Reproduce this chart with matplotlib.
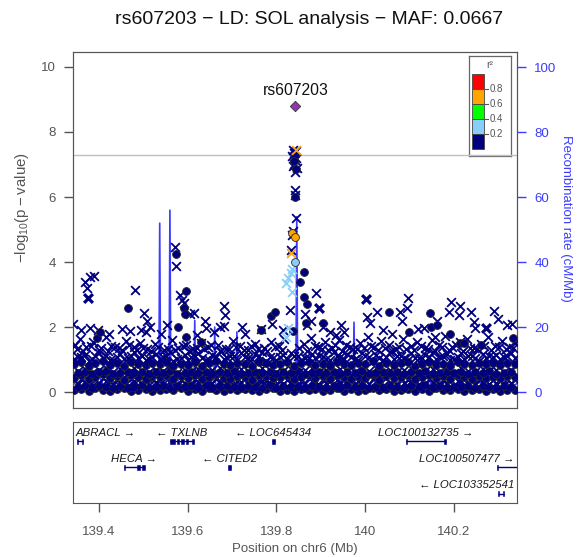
import numpy as np
import matplotlib
matplotlib.use("Agg")
import matplotlib.pyplot as plt
from matplotlib.patches import Rectangle

plt.rcParams['font.family'] = ['Liberation Sans', 'DejaVu Sans']

# ---- data ----
lead_name = "rs607203"
lead_pos = 139.843
lead_val = 8.80

# dense background band (low LD, -log10 p < ~1.3)
band_pos_a = [139.344, 139.360, 139.377, 139.392, 139.409, 139.424, 139.440, 139.457, 139.472, 139.488,
              139.505, 139.520, 139.537, 139.552, 139.568, 139.585, 139.600, 139.616, 139.633, 139.648,
              139.664, 139.681, 139.696, 139.712, 139.729, 139.744, 139.760, 139.777, 139.792, 139.808,
              139.825, 139.840, 139.856, 139.873, 139.888, 139.904, 139.921, 139.936, 139.952, 139.969,
              139.984, 140.000, 140.017, 140.032, 140.048, 140.065, 140.080, 140.096, 140.113, 140.128,
              140.144, 140.161, 140.176, 140.192, 140.209, 140.224, 140.240, 140.257, 140.272, 140.288,
              140.305, 140.320, 140.337]
band_pos_b = [139.352, 139.368, 139.385, 139.400, 139.417, 139.432, 139.448, 139.465, 139.480, 139.496,
              139.513, 139.528, 139.545, 139.560, 139.576, 139.593, 139.608, 139.624, 139.641, 139.656,
              139.672, 139.689, 139.704, 139.720, 139.737, 139.752, 139.768, 139.785, 139.800, 139.816,
              139.833, 139.848, 139.864, 139.881, 139.896, 139.912, 139.929, 139.944, 139.960, 139.977,
              139.992, 140.008, 140.025, 140.040, 140.056, 140.073, 140.088, 140.104, 140.121, 140.136,
              140.152, 140.169, 140.184, 140.200, 140.217, 140.232, 140.248, 140.265, 140.280, 140.296,
              140.313, 140.328]
band_c0 = [0.05, 0.09, 0.03, 0.11, 0.06, 0.02, 0.08, 0.12, 0.04, 0.07, 0.10, 0.03, 0.06, 0.09, 0.05, 0.12,
           0.02, 0.08, 0.04, 0.11, 0.07, 0.03, 0.09, 0.05, 0.10, 0.06, 0.02, 0.08, 0.12, 0.04, 0.07, 0.03,
           0.10, 0.05, 0.09, 0.02, 0.06, 0.11, 0.04, 0.08, 0.03, 0.07, 0.12, 0.05, 0.09, 0.02, 0.06, 0.10,
           0.04, 0.08, 0.03, 0.11, 0.07, 0.05, 0.09, 0.02, 0.06, 0.10, 0.04, 0.08, 0.03, 0.07, 0.05]
band_c1 = [0.15, 0.18, 0.13, 0.20, 0.16, 0.12, 0.19, 0.14, 0.17, 0.21, 0.13, 0.16, 0.20, 0.12, 0.18, 0.15,
           0.19, 0.14, 0.21, 0.13, 0.17, 0.20, 0.15, 0.12, 0.18, 0.16, 0.14, 0.21, 0.13, 0.19, 0.15, 0.17,
           0.12, 0.20, 0.16, 0.14, 0.18, 0.13, 0.21, 0.15, 0.19, 0.12, 0.17, 0.14, 0.20, 0.16, 0.13, 0.18,
           0.15, 0.21, 0.12, 0.19, 0.14, 0.17, 0.16, 0.20, 0.13, 0.18, 0.15, 0.12, 0.19, 0.16]
band_x1 = [0.24, 0.31, 0.19, 0.27, 0.35, 0.22, 0.29, 0.18, 0.33, 0.25, 0.21, 0.30, 0.26, 0.34, 0.20, 0.28,
           0.23, 0.32, 0.19, 0.27, 0.35, 0.24, 0.21, 0.30, 0.26, 0.18, 0.33, 0.29, 0.22, 0.25, 0.31, 0.20,
           0.27, 0.34, 0.23, 0.28, 0.19, 0.32, 0.26, 0.21, 0.30, 0.24, 0.35, 0.18, 0.29, 0.22, 0.27, 0.33,
           0.20, 0.25, 0.31, 0.23, 0.28, 0.19, 0.34, 0.26, 0.21, 0.30, 0.24, 0.27, 0.22, 0.29]
band_x2 = [0.36, 0.40, 0.33, 0.38, 0.42, 0.35, 0.39, 0.34, 0.41, 0.37, 0.33, 0.40, 0.36, 0.42, 0.34, 0.38,
           0.35, 0.41, 0.37, 0.33, 0.39, 0.36, 0.42, 0.34, 0.40, 0.35, 0.38, 0.33, 0.41, 0.37, 0.36, 0.39,
           0.34, 0.42, 0.35, 0.40, 0.33, 0.38, 0.36, 0.41, 0.34, 0.37, 0.39, 0.35, 0.42, 0.33, 0.40, 0.36,
           0.38, 0.34, 0.41, 0.35, 0.37, 0.39, 0.33, 0.42, 0.36, 0.40, 0.34, 0.38, 0.35, 0.41, 0.37]
band_c2 = [0.44, 0.51, 0.39, 0.47, 0.55, 0.42, 0.49, 0.38, 0.53, 0.45, 0.41, 0.50, 0.46, 0.54, 0.40, 0.48,
           0.43, 0.52, 0.39, 0.47, 0.55, 0.44, 0.41, 0.50, 0.46, 0.38, 0.53, 0.49, 0.42, 0.45, 0.51, 0.40,
           0.47, 0.54, 0.43, 0.48, 0.39, 0.52, 0.46, 0.41, 0.50, 0.44, 0.55, 0.38, 0.49, 0.42, 0.47, 0.53,
           0.40, 0.45, 0.51, 0.43, 0.48, 0.39, 0.54, 0.46, 0.41, 0.50, 0.44, 0.47, 0.42, 0.49, 0.45]
band_c3 = [0.59, 0.62, 0.56, 0.61, 0.64, 0.57, 0.60, 0.63, 0.58, 0.62, 0.56, 0.61, 0.59, 0.64, 0.57, 0.60,
           0.63, 0.58, 0.62, 0.56, 0.61, 0.59, 0.64, 0.57, 0.60, 0.62, 0.58, 0.63, 0.56, 0.61, 0.59, 0.64,
           0.57, 0.60, 0.62, 0.58, 0.63, 0.56, 0.61, 0.59, 0.64, 0.57, 0.60, 0.62, 0.58, 0.63, 0.56, 0.61,
           0.59, 0.64, 0.57, 0.60, 0.62, 0.58, 0.63, 0.56, 0.61, 0.59, 0.64, 0.57, 0.60, 0.62]
band_x3 = [0.66, 0.71, 0.59, 0.68, 0.75, 0.62, 0.70, 0.58, 0.73, 0.64, 0.61, 0.69, 0.66, 0.74, 0.60, 0.67,
           0.63, 0.72, 0.59, 0.68, 0.75, 0.64, 0.61, 0.70, 0.66, 0.58, 0.73, 0.69, 0.62, 0.65, 0.71, 0.60,
           0.67, 0.74, 0.63, 0.68, 0.59, 0.72, 0.66, 0.61, 0.70, 0.64, 0.75, 0.58, 0.69, 0.62, 0.67, 0.73,
           0.60, 0.65, 0.71, 0.63, 0.68, 0.59, 0.74, 0.66, 0.61, 0.70, 0.64, 0.67, 0.62, 0.69]
band_c4 = [0.86, 0.91, 0.80, 0.88, 0.95, 0.83, 0.90, 0.79, 0.93, 0.85, 0.82, 0.89, 0.86, 0.94, 0.81, 0.87,
           0.84, 0.92, 0.80, 0.88, 0.95, 0.85, 0.82, 0.90, 0.86, 0.79, 0.93, 0.89, 0.83, 0.85, 0.91, 0.81,
           0.88, 0.94, 0.84, 0.87, 0.80, 0.92, 0.86, 0.82, 0.90, 0.85, 0.95, 0.79, 0.89, 0.83, 0.88, 0.93,
           0.81, 0.86, 0.91, 0.84, 0.87, 0.80, 0.94, 0.86, 0.82, 0.90, 0.85, 0.88, 0.83, 0.89, 0.86]
band_x4 = [1.02, 1.08, 0.97, 1.11, 1.04, 0.99, 1.09, 1.01, 1.12, 1.05, 0.98, 1.07, 1.03, 1.10, 0.97, 1.06,
           1.00, 1.11, 1.04, 0.98, 1.09, 1.02, 1.12, 0.99, 1.07, 1.03, 1.10, 0.97, 1.05, 1.08, 1.01, 1.11,
           0.98, 1.06, 1.04, 1.09, 0.99, 1.12, 1.03, 1.07, 1.00, 1.10, 0.97, 1.05, 1.08, 1.02, 1.11, 0.98,
           1.06, 1.04, 1.09, 1.01, 1.12, 0.99, 1.07, 1.03, 1.10, 0.97, 1.05, 1.08, 1.02, 1.11, 1.04]
band_x5 = [1.08, 1.15, 1.02, 1.21, 1.10, 0.98, 1.18, 1.05, 1.24, 1.12, 1.03, 1.16, 1.09, 1.22, 1.01, 1.14,
           1.07, 1.20, 0.99, 1.13, 1.25, 1.06, 1.11, 1.19, 1.04, 1.17, 1.23, 1.08, 1.00, 1.15, 1.21, 1.10,
           1.05, 1.18, 1.12, 1.02, 1.24, 1.09, 1.16, 1.03, 1.20, 1.07, 1.13, 0.99, 1.22, 1.11, 1.06, 1.19,
           1.04, 1.15, 1.23, 1.08, 1.17, 1.01, 1.21, 1.12, 1.05, 1.18, 1.10, 1.14, 1.07, 1.20]

fringe_pos = [139.346, 139.358, 139.371, 139.386, 139.399, 139.415, 139.428, 139.445, 139.462, 139.478,
              139.493, 139.509, 139.526, 139.547, 139.565, 139.578, 139.597, 139.611, 139.629, 139.645,
              139.668, 139.686, 139.702, 139.719, 139.735, 139.751, 139.772, 139.789, 139.805, 139.818,
              139.862, 139.878, 139.894, 139.909, 139.926, 139.941, 139.957, 139.973, 139.989, 140.006,
              140.021, 140.037, 140.053, 140.069, 140.085, 140.103, 140.118, 140.134, 140.150, 140.166,
              140.181, 140.197, 140.213, 140.229, 140.245, 140.261, 140.277, 140.293, 140.309, 140.325,
              140.339]
fringe_val = [1.45, 1.62, 1.38, 1.55, 1.30, 1.68, 1.42, 1.35, 1.58, 1.40, 1.50, 1.33, 1.47, 1.28, 1.60,
              1.36, 1.44, 1.31, 1.52, 1.39, 1.46, 1.34, 1.57, 1.41, 1.30, 1.49, 1.37, 1.53, 1.43, 1.62,
              1.48, 1.66, 1.40, 1.55, 1.35, 1.60, 1.44, 1.31, 1.52, 1.70, 1.38, 1.58, 1.46, 1.33, 1.64,
              1.42, 1.55, 1.36, 1.61, 1.45, 1.72, 1.39, 1.53, 1.62, 1.35, 1.49, 1.70, 1.42, 1.56, 1.38,
              1.50]
fringe2_pos = [139.350, 139.364, 139.381, 139.404, 139.420, 139.437, 139.452, 139.468, 139.485, 139.500,
               139.517, 139.533, 139.556, 139.572, 139.589, 139.604, 139.622, 139.637, 139.653, 139.676,
               139.693, 139.709, 139.726, 139.742, 139.758, 139.780, 139.797, 139.812, 139.850, 139.869,
               139.886, 139.902, 139.917, 139.933, 139.949, 139.965, 139.981, 139.997, 140.013, 140.029,
               140.045, 140.061, 140.077, 140.093, 140.110, 140.126, 140.142, 140.158, 140.174, 140.190,
               140.205, 140.221, 140.237, 140.253, 140.269, 140.285, 140.301, 140.317, 140.333]
fringe2_val = [1.32, 1.27, 1.41, 1.35, 1.25, 1.38, 1.30, 1.44, 1.28, 1.36, 1.26, 1.40, 1.33, 1.29, 1.42,
               1.27, 1.37, 1.31, 1.45, 1.26, 1.34, 1.39, 1.28, 1.43, 1.32, 1.25, 1.40, 1.30, 1.36, 1.27,
               1.41, 1.33, 1.29, 1.44, 1.26, 1.38, 1.31, 1.35, 1.42, 1.28, 1.37, 1.25, 1.40, 1.32, 1.29,
               1.43, 1.34, 1.27, 1.39, 1.30, 1.45, 1.26, 1.36, 1.33, 1.41, 1.28, 1.38, 1.31, 1.35]

# r2 < 0.2 (navy), crosses and circles above the band
navy_x_pos = [139.341, 139.368, 139.372, 139.379, 139.388, 139.481, 139.501, 139.509, 139.514, 139.505,
              139.571, 139.573, 139.582, 139.587, 139.591, 139.605, 139.614, 139.638, 139.641, 139.360,
              139.379, 139.397, 139.422, 139.452, 139.470, 139.494, 139.540, 139.553, 139.620, 139.660,
              139.672, 139.681, 139.685, 139.681, 139.722, 139.730, 139.766, 139.790, 139.830, 139.815,
              139.838, 139.845, 139.836, 139.842, 139.839, 139.846, 139.841, 139.843, 139.845, 139.838,
              139.835, 139.834, 139.890, 139.865, 139.878, 139.870, 139.905, 139.922, 139.945, 139.952,
              139.935, 140.097, 140.095, 140.079, 140.083, 140.027, 140.004, 140.011, 140.194, 140.214,
              140.189, 140.212, 140.239, 140.246, 140.248, 140.162, 140.158, 140.119, 140.133, 140.040,
              140.060, 140.290, 140.300, 140.320, 140.331, 139.840, 139.844, 139.838, 139.843]
navy_x_val = [2.10, 3.38, 3.20, 3.54, 3.57, 3.14, 2.43, 2.20, 2.00, 1.85,
              4.46, 3.88, 2.98, 2.83, 2.74, 2.40, 2.43, 2.20, 1.98, 1.90,
              1.98, 1.92, 1.80, 1.95, 1.88, 1.92, 1.80, 2.05, 1.75, 1.85,
              2.00, 2.65, 2.37, 2.03, 2.00, 1.80, 1.95, 2.10, 2.52, 1.90,
              7.45, 7.40, 7.25, 7.15, 7.02, 6.90, 6.78, 6.20, 5.35, 4.95,
              4.83, 4.37, 3.05, 2.40, 2.20, 2.05, 2.00, 1.85, 2.05, 1.85,
              1.75, 2.89, 2.60, 2.46, 2.20, 2.46, 2.30, 2.12, 2.77, 2.65,
              2.46, 2.37, 2.46, 2.15, 1.97, 2.20, 1.70, 1.95, 1.98, 1.90,
              1.80, 2.50, 2.25, 2.05, 2.10, 7.35, 7.20, 6.95, 6.05]
bold_x_pos = [139.375, 139.896, 140.002, 140.273]
bold_x_val = [2.88, 2.60, 2.86, 1.97]
navy_o_pos = [139.465, 139.573, 139.596, 139.591, 139.593, 139.578, 139.396, 139.402, 139.596, 139.630,
              139.787, 139.796, 139.766, 139.862, 139.853, 139.862, 139.869, 139.867, 139.905, 139.838,
              139.841, 139.840, 139.844, 139.843, 140.054, 140.146, 140.148, 140.162, 140.099, 140.192,
              140.214, 140.223, 140.261, 140.333]
navy_o_val = [2.60, 4.25, 3.10, 2.58, 2.40, 2.00, 1.66, 1.85, 1.70, 1.55,
              2.35, 2.47, 1.90, 3.70, 3.38, 2.92, 2.70, 2.12, 2.12, 1.87,
              7.30, 7.10, 6.85, 6.00, 2.46, 2.43, 2.00, 2.06, 1.85, 1.80,
              1.50, 1.50, 1.45, 1.66]

# 0.2 - 0.4 (light blue) and 0.6 - 0.8 (orange)
lblue_x_pos = [139.836, 139.832, 139.827, 139.822, 139.836, 139.826, 139.822]
lblue_x_val = [3.80, 3.65, 3.50, 3.35, 3.08, 1.97, 1.70]
lblue_o_pos = [139.842]
lblue_o_val = [4.00]
orange_x_pos = [139.844, 139.832]
orange_x_val = [7.45, 4.28]
orange_o_pos = [139.835, 139.842]
orange_o_val = [4.90, 4.77]

# recombination rate (cM/Mb)
rec_pos = [139.341, 139.352, 139.365, 139.380, 139.398, 139.412, 139.430, 139.447, 139.463, 139.480,
           139.497, 139.512, 139.525, 139.535, 139.537, 139.539, 139.548, 139.558, 139.560, 139.562,
           139.575, 139.590, 139.604, 139.614, 139.616, 139.618, 139.632, 139.648, 139.659, 139.661,
           139.663, 139.678, 139.694, 139.709, 139.711, 139.713, 139.728, 139.746, 139.762, 139.780,
           139.797, 139.812, 139.828, 139.844, 139.846, 139.848, 139.862, 139.880, 139.897, 139.915,
           139.933, 139.950, 139.964, 139.973, 139.975, 139.977, 139.990, 140.008, 140.025, 140.044,
           140.062, 140.080, 140.098, 140.117, 140.135, 140.152, 140.170, 140.188, 140.206, 140.224,
           140.242, 140.260, 140.278, 140.296, 140.314, 140.330, 140.342]
rec_rate = [3.1, 1.8, 4.2, 2.5, 6.0, 1.2, 3.4, 2.2, 5.1, 1.5,
            2.8, 4.6, 1.9, 2.4, 52.0, 2.1, 3.0, 1.6, 56.0, 2.3,
            4.1, 1.4, 3.5, 2.0, 22.0, 1.8, 5.2, 2.6, 3.1, 20.0,
            1.7, 4.4, 2.9, 1.5, 18.5, 2.2, 3.8, 1.3, 4.9, 2.4,
            1.6, 3.3, 5.5, 2.7, 54.0, 3.0, 1.9, 4.3, 2.1, 3.6,
            1.4, 5.0, 2.6, 1.8, 21.5, 2.3, 3.9, 1.5, 6.2, 2.0,
            3.2, 4.8, 1.6, 2.9, 5.6, 1.9, 3.4, 2.5, 6.5, 1.7,
            4.0, 2.8, 5.3, 2.2, 3.7, 1.4, 2.6]

# genes
gene_names = ["ABRACL", "TXLNB", "LOC645434", "HECA", "CITED2",
              "LOC100132735", "LOC100507477", "LOC103352541"]
gene_start = [139.350, 139.561, 139.790, 139.456, 139.692, 140.092, 140.297, 140.299]
gene_end = [139.365, 139.614, 139.796, 139.503, 139.697, 140.183, 140.400, 140.313]
gene_strand = ["+", "-", "-", "+", "-", "+", "+", "-"]
gene_row = [1, 1, 1, 2, 2, 1, 2, 3]
exon_gene = [0, 0, 1, 1, 1, 1, 1, 2, 3, 3, 3, 4, 5, 5, 6, 7, 7]
exon_start = [139.350, 139.361, 139.561, 139.576, 139.586, 139.596, 139.609, 139.790, 139.456, 139.486,
              139.496, 139.692, 140.092, 140.179, 140.297, 140.299, 140.310]
exon_end = [139.353, 139.365, 139.571, 139.580, 139.591, 139.601, 139.614, 139.796, 139.458, 139.492,
            139.503, 139.697, 140.094, 140.183, 140.299, 140.302, 140.313]

ld_colors = ["#FF0000", "#FFA500", "#00FF00", "#87CEFA", "#000080"]
ld_labels = ["0.8", "0.6", "0.4", "0.2"]
x_ticks = [139.4, 139.6, 139.8, 140.0, 140.2]
x_ticklabels = ["139.4", "139.6", "139.8", "140", "140.2"]

NAVY = "#000080"
REC = "#3c3cff"
GREY = "#555555"
W, H = 577, 557
xlim = (139.3415, 140.3425)

fig = plt.figure(figsize=(W / 100, H / 100), dpi=100)


def px_axes(x0, y0, x1, y1):
    return fig.add_axes([x0 / W, 1 - y1 / H, (x1 - x0) / W, (y1 - y0) / H])


ax = px_axes(73, 52, 517, 408)
axr = ax.twinx()
ax.set_zorder(axr.get_zorder() + 1)
ax.patch.set_visible(False)

# recombination on right axis (behind points)
axr.plot(rec_pos, rec_rate, color=REC, lw=1.2)
axr.set_ylim(-4.9, 104.7)
axr.set_yticks([0, 20, 40, 60, 80, 100])
axr.tick_params(axis="y", colors=REC, length=6.5, width=1, labelsize=9.5, pad=6)
for s in axr.spines.values():
    s.set_color(GREY)

ax.axhline(7.3, color="#c0c0c0", lw=1, zorder=1)

xs = dict(marker="x", s=40, linewidths=1.3, zorder=3)
os_ = dict(marker="o", s=32, edgecolors="#2a2a2a", linewidths=0.6, zorder=3)

ax.scatter(band_pos_a[:len(band_c0)], band_c0, c=NAVY, **os_)
ax.scatter(band_pos_b[:len(band_c1)], band_c1, c=NAVY, **os_)
ax.scatter(band_pos_b[:len(band_x1)], band_x1, c=NAVY, **xs)
ax.scatter(band_pos_a[:len(band_x2)], band_x2, c=NAVY, **xs)
ax.scatter(band_pos_a[:len(band_c2)], band_c2, c=NAVY, **os_)
ax.scatter(band_pos_b[:len(band_c3)], band_c3, c=NAVY, **os_)
ax.scatter(band_pos_b[:len(band_x3)], band_x3, c=NAVY, **xs)
ax.scatter(band_pos_a[:len(band_c4)], band_c4, c=NAVY, **os_)
ax.scatter(band_pos_a[:len(band_x4)], band_x4, c=NAVY, **xs)
ax.scatter(band_pos_b[:len(band_x5)], band_x5, c=NAVY, **xs)
ax.scatter(fringe_pos, fringe_val, c=NAVY, **xs)
ax.scatter(fringe2_pos, fringe2_val, c=NAVY, **xs)
ax.scatter(navy_x_pos, navy_x_val, c=NAVY, **xs)
ax.scatter(bold_x_pos, bold_x_val, c=NAVY, marker="x", s=40, linewidths=2.3, zorder=3)
ax.scatter(navy_o_pos, navy_o_val, c=NAVY, **os_)
ax.scatter(lblue_x_pos, lblue_x_val, c=ld_colors[3], **xs)
ax.scatter(lblue_o_pos, lblue_o_val, c=ld_colors[3], **os_)
ax.scatter(orange_x_pos, orange_x_val, c=ld_colors[1], **xs)
ax.scatter(orange_o_pos, orange_o_val, c=ld_colors[1], **os_)
ax.scatter([lead_pos], [lead_val], c="#9632b8", marker="D", s=28,
           edgecolors="#333333", linewidths=0.6, zorder=4)
ax.text(lead_pos, lead_val + 0.49, lead_name, ha="center", va="center", fontsize=11.3, color="#111111")

ax.set_xlim(xlim)
ax.set_ylim(-0.49, 10.46)
ax.set_xticks([])
ax.set_yticks([0, 2, 4, 6, 8, 10])
ax.tick_params(axis="y", colors=GREY, length=6.5, width=1, labelsize=9.5, pad=6)
for s in ax.spines.values():
    s.set_color(GREY)

# gene panel
gx = px_axes(73, 422, 517, 503)
gx.set_xlim(xlim)
gx.set_ylim(3.35, 0.27)
gx.set_yticks([])
gx.set_xticks(x_ticks)
gx.set_xticklabels(x_ticklabels)
gx.tick_params(axis="x", colors=GREY, length=6.3, width=1, labelsize=9.5, pad=10)
for s in gx.spines.values():
    s.set_color(GREY)

for i, name in enumerate(gene_names):
    r = gene_row[i]
    gx.plot([gene_start[i], gene_end[i]], [r, r], color=NAVY, lw=1, solid_capstyle="butt")
for g, a, b in zip(exon_gene, exon_start, exon_end):
    gx.add_patch(Rectangle((a, gene_row[g] - 0.1), b - a, 0.2, facecolor=NAVY, edgecolor=NAVY, lw=0.4))

renderer = fig.canvas.get_renderer()
gbox = gx.get_window_extent(renderer)
for i, name in enumerate(gene_names):
    label = name + " \u2192" if gene_strand[i] == "+" else "\u2190 " + name
    mid = (gene_start[i] + min(gene_end[i], xlim[1])) / 2
    t = gx.text(mid, gene_row[i] - 0.33, label, ha="center", va="center",
                fontsize=8.2, style="italic", color="#1a1a1a")
    bb = t.get_window_extent(renderer)
    if bb.x0 < gbox.x0 + 3:
        t.set_ha("left")
        t.set_x(xlim[0] + 3 / 443)
    elif bb.x1 > gbox.x1 - 2.5:
        t.set_ha("right")
        t.set_x(xlim[1] - 2.5 / 443)

# legend
lg = px_axes(469, 56, 511, 156)
lg.set_xlim(0, 42)
lg.set_ylim(100, 0)
lg.set_xticks([])
lg.set_yticks([])
for s in lg.spines.values():
    s.set_color("#666666")
    s.set_linewidth(0.9)
for i, c in enumerate(ld_colors):
    lg.add_patch(Rectangle((3, 18 + 15 * i), 12, 15, facecolor=c, edgecolor="#444444", lw=0.6))
for j, lab in enumerate(ld_labels):
    y = 33 + 15 * j
    lg.plot([15, 19], [y, y], color=GREY, lw=0.8)
    lg.text(20.5, y, lab, fontsize=7, va="center", ha="left", color=GREY)
lg.text(21, 9, "r\u00b2", fontsize=7.5, ha="center", va="center", color=GREY)

# titles / axis labels
fig.text(309 / W, 1 - 20 / H, "rs607203 \u2212 LD: SOL analysis \u2212 MAF: 0.0667",
         ha="center", va="center", fontsize=14, color="#111111")
fig.text(22 / W, 1 - 208 / H, r"$\mathregular{-log_{10}(p-value)}$", rotation=90,
         ha="center", va="center", fontsize=10.8, color=GREY)
fig.text(566 / W, 1 - 218 / H, "Recombination rate (cM/Mb)", rotation=270,
         ha="center", va="center", fontsize=9.5, color=REC)
fig.text(295 / W, 1 - 549 / H, "Position on chr6 (Mb)", ha="center", va="center",
         fontsize=9.5, color=GREY)

fig.savefig("out.png", dpi=100)
